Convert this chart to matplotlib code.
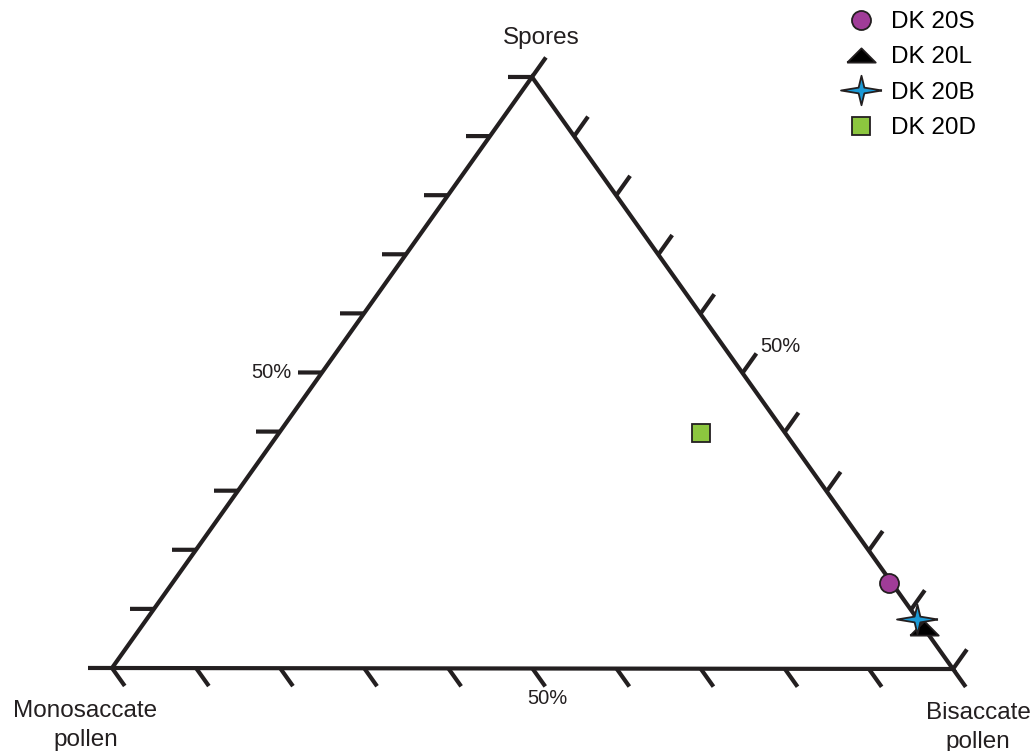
import matplotlib.pyplot as plt
import numpy as np
from matplotlib.lines import Line2D

plt.rcParams['font.family'] = ['Liberation Sans', 'DejaVu Sans']

# samples and composition (%)
samples = ['DK 20S', 'DK 20L', 'DK 20B', 'DK 20D']
spores = [14.5, 6.9, 8.5, 39.8]
monosaccate = [0.4, 0.0, 0.0, 10.0]
bisaccate = [85.1, 93.1, 91.5, 50.2]

# corner positions on the page (pixels)
M = np.array([112.0, 668.0])   # monosaccate pollen
B = np.array([953.0, 669.0])   # bisaccate pollen
S = np.array([532.0, 77.0])    # spores

ink = '#231f20'

def tern(s, m, b):
    tot = s + m + b
    return (s * S + m * M + b * B) / tot

def unit(v):
    return v / np.hypot(*v)

# custom marker shapes
flat_tri = [(-1, -0.5), (1, -0.5), (0, 0.5), (-1, -0.5)]
star4 = [(1, 0), (0.14, 0.14), (0, 0.72), (-0.14, 0.14), (-1, 0),
         (-0.14, -0.14), (0, -0.72), (0.14, -0.14), (1, 0)]

styles = {
    'DK 20S': dict(marker='o', ms=13.7, mfc='#a03c98'),
    'DK 20L': dict(marker=flat_tri, ms=20.5, mfc='#000000'),
    'DK 20B': dict(marker=star4, ms=29.5, mfc='#1b9ad6'),
    'DK 20D': dict(marker='s', ms=13.5, mfc='#8cc63f'),
}

fig = plt.figure(figsize=(10.35, 7.51), dpi=100)
ax = fig.add_axes([0, 0, 1, 1])
ax.set_xlim(0, 1035)
ax.set_ylim(751, 0)
ax.axis('off')

# triangle outline
tri = np.array([M, B, S, M])
ax.plot(tri[:, 0], tri[:, 1], color=ink, lw=3, solid_capstyle='butt',
        solid_joinstyle='miter', zorder=2)

# ticks every 10 %
sides = [
    (M, B, unit(B - S), 22),   # bottom, ticks down-right
    (M, S, unit(M - B), 24),   # left, ticks to the left
    (B, S, unit(S - M), 24),   # right, ticks up-right
]
for p0, p1, d, L in sides:
    for f in np.linspace(0, 1, 11):
        p = p0 + f * (p1 - p0)
        q = p + d * L
        ax.plot([p[0], q[0]], [p[1], q[1]], color=ink, lw=3,
                solid_capstyle='butt', zorder=2)

# 50 % labels
ax.text(291, 373, '50%', fontsize=14.5, ha='right', va='center', color=ink)
ax.text(780, 346, '50%', fontsize=14.5, ha='center', va='center', color=ink)
ax.text(547, 699, '50%', fontsize=14.5, ha='center', va='center', color=ink)

# corner labels
txt = dict(fontsize=17.5, ha='center', va='baseline', color=ink)
ax.text(541, 44, 'Spores', **txt)
ax.text(85, 717, 'Monosaccate', **txt)
ax.text(86, 746, 'pollen', **txt)
ax.text(978, 719, 'Bisaccate', **txt)
ax.text(978, 748, 'pollen', **txt)

# samples
handles = []
for name, s, m, b in zip(samples, spores, monosaccate, bisaccate):
    x, y = tern(s, m, b)
    st = styles[name]
    ax.plot(x, y, linestyle='none', mec=ink, mew=1.3, zorder=3, **st)
    handles.append(Line2D([], [], linestyle='none', mec=ink, mew=1.3,
                          label=name, **st))

fig.legend(handles=handles, loc='upper left',
           bbox_to_anchor=(846 / 1035, 1 - 11 / 751), frameon=False,
           fontsize=17.5, handlelength=1.2, handletextpad=0.65,
           labelspacing=0.55, borderpad=0, borderaxespad=0)

fig.savefig('out.png', dpi=100)
